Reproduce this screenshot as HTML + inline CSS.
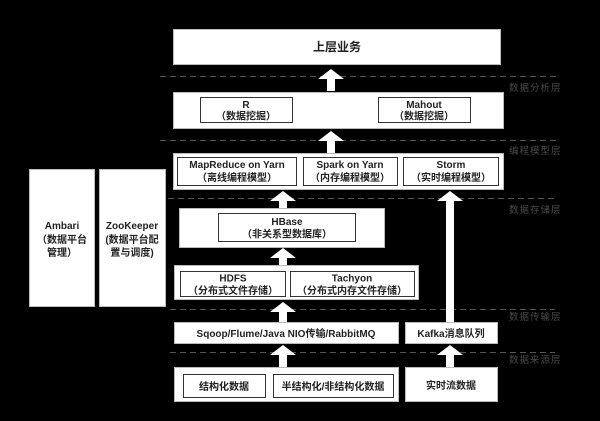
<!DOCTYPE html>
<html><head><meta charset="utf-8"><style>
html,body{margin:0;padding:0;background:#000;}
svg{display:block}
text{font-family:"Liberation Sans","Noto Sans CJK SC",sans-serif;font-weight:bold;font-size:10px;fill:#222;text-anchor:middle}
.l{fill:#4a4a4a;font-weight:normal;font-size:9.5px;text-anchor:start;letter-spacing:1px}
.o{fill:#fff;stroke:#bbb;stroke-width:1}
.i{fill:#fff;stroke:#333;stroke-width:1}
.d{stroke:#555;stroke-width:1;stroke-dasharray:6,4}
</style></head><body>
<svg width="600" height="421" viewBox="0 0 600 421">
<rect width="600" height="421" fill="#000"/>
<!-- dashed lines -->
<line class="d" x1="160" y1="76.5" x2="560" y2="76.5"/>
<line class="d" x1="160" y1="140.5" x2="560" y2="140.5"/>
<line class="d" x1="168" y1="198.5" x2="555" y2="198.5"/>
<line class="d" x1="170" y1="309.5" x2="555" y2="309.5"/>
<line class="d" x1="170" y1="352.5" x2="555" y2="352.5"/>
<text class="l" x="509" y="91">数据分析层</text>
<text class="l" x="509" y="154">编程模型层</text>
<text class="l" x="509" y="213">数据存储层</text>
<text class="l" x="509" y="320">数据传输层</text>
<text class="l" x="509" y="363">数据来源层</text>

<!-- top -->
<rect class="o" x="173.5" y="29.5" width="327" height="35"/>
<text x="337" y="51" style="font-size:12px">上层业务</text>

<!-- analysis -->
<rect class="o" x="173.5" y="92.5" width="330" height="36"/>
<rect class="i" x="200.5" y="97.5" width="92" height="25"/>
<text x="246" y="108">R</text><text x="246" y="119.5">（数据挖掘）</text>
<rect class="i" x="378.5" y="97.5" width="92" height="25"/>
<text x="424" y="108">Mahout</text><text x="424" y="119.5">（数据挖掘）</text>

<!-- programming -->
<rect class="o" x="173.5" y="153.5" width="330" height="36"/>
<rect class="i" x="177.5" y="157.5" width="119" height="28"/>
<text x="237" y="168">MapReduce on Yarn</text><text x="237" y="181">（离线编程模型）</text>
<rect class="i" x="303.5" y="157.5" width="94" height="28"/>
<text x="350" y="168">Spark on Yarn</text><text x="350" y="181">（内存编程模型）</text>
<rect class="i" x="403.5" y="157.5" width="95" height="28"/>
<text x="451" y="168">Storm</text><text x="451" y="181">（实时编程模型）</text>

<!-- side -->
<rect class="o" x="29.5" y="169.5" width="65" height="137"/>
<text x="62" y="229">Ambari</text><text x="62" y="243">（数据平台</text><text x="62" y="256">管理）</text>
<rect class="o" x="99.5" y="169.5" width="66" height="137"/>
<text x="132" y="229">ZooKeeper</text><text x="132" y="243">(数据平台配</text><text x="132" y="256">置与调度)</text>

<!-- HBase -->
<rect class="o" x="179.5" y="208.5" width="205" height="39"/>
<rect class="i" x="218.5" y="213.5" width="137" height="28"/>
<text x="287" y="225">HBase</text><text x="287" y="237.5">（非关系型数据库）</text>

<!-- HDFS -->
<rect class="o" x="174.5" y="265.5" width="244" height="34"/>
<rect class="i" x="180.5" y="271.5" width="105" height="25"/>
<text x="233" y="281.5">HDFS</text><text x="233" y="294">（分布式文件存储）</text>
<rect class="i" x="290.5" y="271.5" width="124" height="25"/>
<text x="352" y="281.5">Tachyon</text><text x="352" y="294">（分布式内存文件存储）</text>

<!-- transport -->
<rect class="o" x="174.5" y="322.5" width="224" height="21"/>
<text x="286" y="337">Sqoop/Flume/Java NIO传输/RabbitMQ</text>
<rect class="o" x="405.5" y="322.5" width="92" height="21"/>
<text x="451" y="337">Kafka消息队列</text>

<!-- sources -->
<rect class="o" x="174.5" y="367.5" width="224" height="34"/>
<rect class="i" x="183.5" y="374.5" width="82" height="23"/>
<text x="224" y="390">结构化数据</text>
<rect class="i" x="273.5" y="374.5" width="120" height="23"/>
<text x="333" y="390">半结构化/非结构化数据</text>
<rect class="o" x="405.5" y="367.5" width="92" height="34"/>
<text x="451" y="389">实时流数据</text>

<!-- arrows -->
<g fill="#fff">
<polygon points="331,69 344,79 335,79 335,91 327,91 327,79 318,79"/>
<polygon points="331,131 344,141 335,141 335,153 327,153 327,141 318,141"/>
<polygon points="283,191 296,201 287,201 287,208 279,208 279,201 270,201"/>
<polygon points="283,248 296,258 287,258 287,265 279,265 279,258 270,258"/>
<polygon points="283,302 296,312 287,312 287,322 279,322 279,312 270,312"/>
<polygon points="283,345 296,355 287,355 287,367 279,367 279,355 270,355"/>
<polygon points="450,191 463,201 454,201 454,322 446,322 446,201 437,201"/>
<polygon points="450,345 463,355 454,355 454,367 446,367 446,355 437,355"/>
</g>
</svg>
</body></html>
